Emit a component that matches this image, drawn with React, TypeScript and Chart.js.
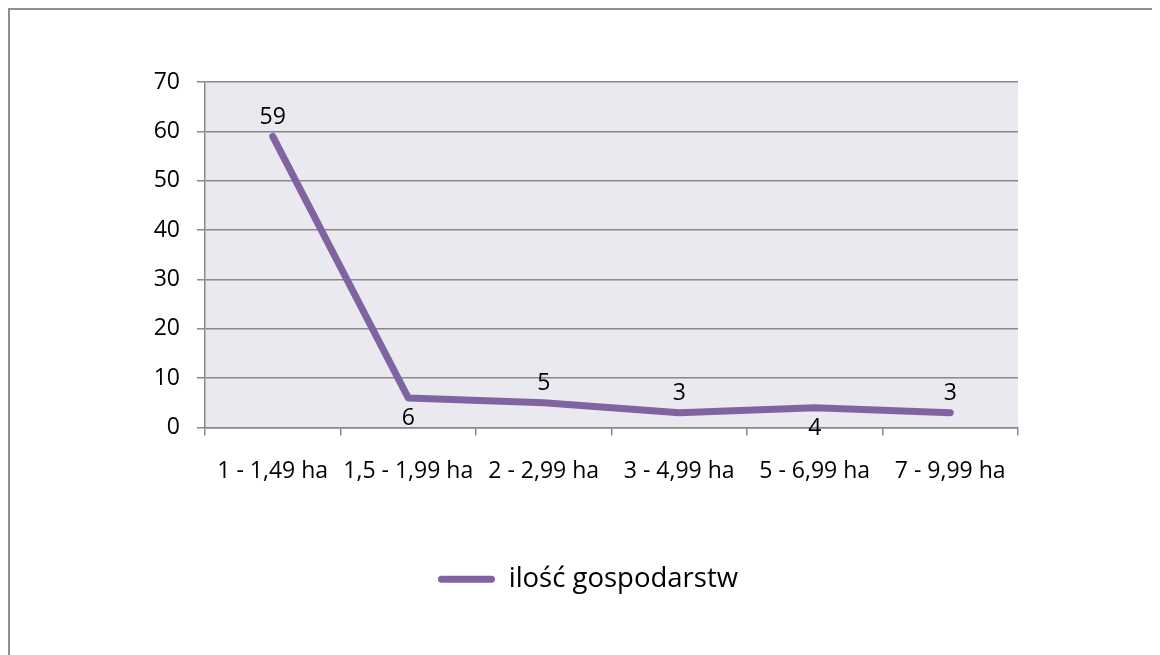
import React, { useEffect, useRef } from "react";
import { Chart, registerables } from "chart.js";

Chart.register(...registerables);

const categories = ["1 - 1,49 ha", "1,5 - 1,99 ha", "2 - 2,99 ha", "3 - 4,99 ha", "5 - 6,99 ha", "7 - 9,99 ha"];
const seriesName = "ilość gospodarstw";
const values = [59, 6, 5, 3, 4, 3];
const labelSides = ["above", "below", "above", "above", "below", "above"];
const yTicks = [0, 10, 20, 30, 40, 50, 60, 70];

const LINE = "#8064A2";
const GRID = "#888888";
const PLOT_BG = "#EBE9F0";
const FONT = "'Open Sans', sans-serif";

const plotBg = {
  id: "plotBg",
  beforeDraw(chart: any) {
    const { ctx, chartArea } = chart;
    ctx.save();
    ctx.fillStyle = PLOT_BG;
    ctx.fillRect(chartArea.left, chartArea.top, chartArea.right - chartArea.left, chartArea.bottom - chartArea.top);
    ctx.restore();
    if (chart.legend) {
      chart.legend.left = 0;
      chart.legend.right = chart.width + 6;
    }
  },
};

const dataLabels = {
  id: "dataLabels",
  afterDatasetsDraw(chart: any) {
    const { ctx } = chart;
    const meta = chart.getDatasetMeta(0);
    ctx.save();
    ctx.font = `23px ${FONT}`;
    ctx.fillStyle = "#000";
    ctx.textAlign = "center";
    ctx.textBaseline = "middle";
    meta.data.forEach((pt: any, i: number) => {
      const dy = labelSides[i] === "below" ? 21 : -19;
      ctx.fillText(String(values[i]), pt.x, pt.y + dy);
    });
    ctx.restore();
  },
};

export default function App() {
  const ref = useRef<HTMLCanvasElement | null>(null);
  useEffect(() => {
    document.documentElement.style.overflow = "hidden";
    const chart = new Chart(ref.current!, {
      type: "line",
      data: {
        labels: categories,
        datasets: [
          {
            label: seriesName,
            data: values,
            borderColor: LINE,
            backgroundColor: LINE,
            borderWidth: 7,
            borderCapStyle: "round",
            borderJoinStyle: "round",
            pointRadius: 0,
            tension: 0,
          },
        ],
      },
      options: {
        animation: false,
        responsive: true,
        maintainAspectRatio: false,
        layout: { padding: { top: 72, right: 142, left: 0, bottom: 52 } },
        plugins: {
          tooltip: { enabled: false },
          legend: {
            position: "bottom",
            labels: {
              font: { family: FONT, size: 27.5 },
              color: "#000",
              boxWidth: 57,
              boxHeight: 7,
              padding: 10,
              useBorderRadius: true,
              borderRadius: 3.5,
              generateLabels: () => [
                {
                  text: seriesName,
                  fillStyle: LINE,
                  strokeStyle: LINE,
                  lineWidth: 0,
                  hidden: false,
                  datasetIndex: 0,
                  borderRadius: 3.5,
                  fontColor: "#000",
                } as any,
              ],
            },
          },
        },
        scales: {
          x: {
            type: "category",
            offset: true,
            afterFit: (s: any) => {
              s.height = 128;
            },
            grid: {
              offset: true,
              drawOnChartArea: false,
              drawTicks: true,
              tickLength: 8,
              color: GRID,
              lineWidth: 1.5,
            },
            border: { display: true, color: GRID, width: 1.5 },
            ticks: {
              font: { family: FONT, size: 23 },
              color: "#000",
              padding: 22,
              maxRotation: 0,
              autoSkip: false,
            },
          },
          y: {
            min: 0,
            max: 70,
            afterFit: (s: any) => {
              s.width = 195;
            },
            afterBuildTicks: (s: any) => {
              s.ticks = yTicks.map((v) => ({ value: v }));
            },
            grid: {
              color: GRID,
              lineWidth: 1.5,
              drawTicks: true,
              tickLength: 8,
            },
            border: { display: true, color: GRID, width: 1.5 },
            ticks: {
              font: { family: FONT, size: 23 },
              color: "#000",
              padding: 17,
            },
          },
        },
      },
      plugins: [plotBg, dataLabels],
    });
    return () => chart.destroy();
  }, []);

  return (
    <div
      style={{
        position: "relative",
        width: 1152,
        height: 647,
        borderTop: "2px solid #8f8f8f",
        borderLeft: "2px solid #8f8f8f",
        boxSizing: "border-box",
        background: "#fff",
      }}
    >
      <div style={{ position: "absolute", left: 0, top: 0, width: 1150, height: 645 }}>
        <canvas ref={ref} />
      </div>
    </div>
  );
}
